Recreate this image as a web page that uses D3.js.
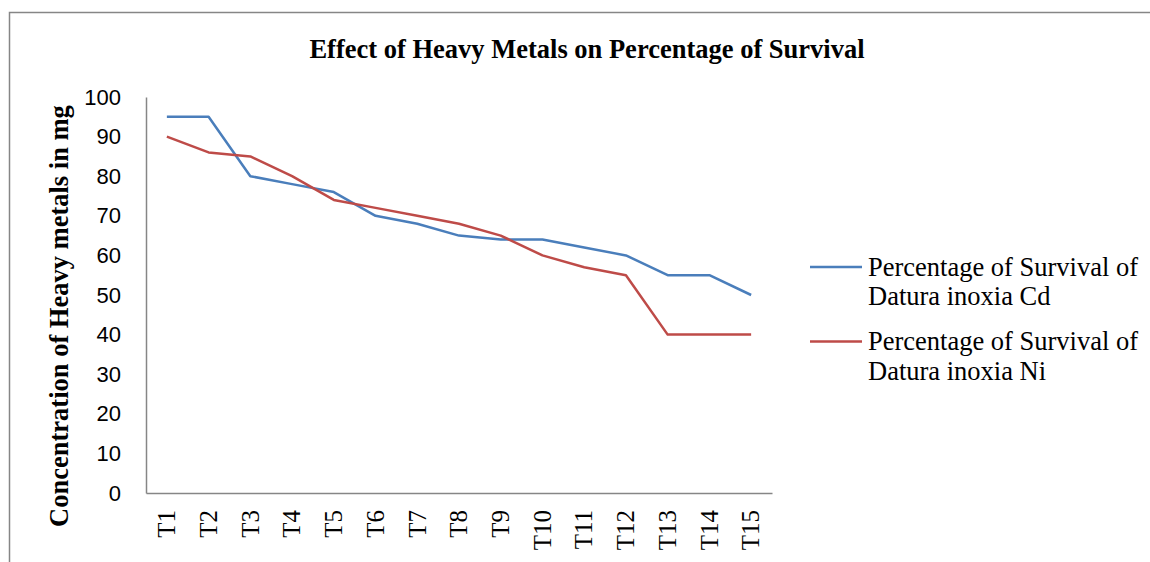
<!DOCTYPE html>
<html>
<head>
<meta charset="utf-8">
<script src="https://cdn.jsdelivr.net/npm/d3@7"></script>
<style>
  body { margin: 0; background: #fff; }
  svg { display: block; }
</style>
</head>
<body>
<svg width="1150" height="562"></svg>
<script>
const categories = ['T1', 'T2', 'T3', 'T4', 'T5', 'T6', 'T7', 'T8', 'T9', 'T10', 'T11', 'T12', 'T13', 'T14', 'T15'];
const cdValues = [95, 95, 80, 78, 76, 70, 68, 65, 64, 64, 62, 60, 55, 55, 50];
const niValues = [90, 86, 85, 80, 74, 72, 70, 68, 65, 60, 57, 55, 40, 40, 40];
const yTicks = [0, 10, 20, 30, 40, 50, 60, 70, 80, 90, 100];
const seriesNames = ['Percentage of Survival of Datura inoxia Cd', 'Percentage of Survival of Datura inoxia Ni'];
const colors = ['#4A7EBB', '#BE4B48'];

const svg = d3.select('svg');
const serif = '"Liberation Serif", "Times New Roman", serif';
const sans = '"Liberation Sans", Arial, sans-serif';

// outer chart border (cropped at right and bottom)
svg.append('rect')
    .attr('x', 9.5).attr('y', 12.5)
    .attr('width', 1200).attr('height', 600)
    .attr('fill', 'none').attr('stroke', '#868686').attr('stroke-width', 1.5);

const plot = { left: 146, right: 772, top: 97, bottom: 493 };

const x = d3.scaleBand()
    .domain(categories)
    .range([plot.left, plot.right]);
const y = d3.scaleLinear()
    .domain([0, 100])
    .range([plot.bottom, plot.top]);

// title
svg.append('text')
    .attr('x', 587).attr('y', 58)
    .attr('text-anchor', 'middle')
    .style('font-family', serif).style('font-weight', 'bold').style('font-size', '26.5px')
    .text('Effect of Heavy Metals on Percentage of Survival');

// y axis
const yAxis = svg.append('g')
    .attr('transform', `translate(${plot.left},0)`)
    .call(d3.axisLeft(y).tickValues(yTicks).tickSize(0).tickPadding(25));
yAxis.select('.domain').attr('stroke', '#868686').attr('stroke-width', 1.5);
yAxis.selectAll('text')
    .style('font-family', sans).style('font-size', '22px').attr('fill', '#000');

// x axis
const xAxis = svg.append('g')
    .attr('transform', `translate(0,${plot.bottom})`)
    .call(d3.axisBottom(x).tickSize(0));
xAxis.select('.domain').attr('stroke', '#868686').attr('stroke-width', 1.5);
xAxis.selectAll('text')
    .attr('transform', 'rotate(-90)')
    .attr('x', -17).attr('y', 0).attr('dy', '0.33em')
    .attr('text-anchor', 'end')
    .style('font-family', serif).style('font-size', '25px').attr('fill', '#000');

// y axis title
svg.append('text')
    .attr('transform', `translate(68,316) rotate(-90)`)
    .attr('text-anchor', 'middle')
    .style('font-family', serif).style('font-weight', 'bold').style('font-size', '26.5px')
    .text('Concentration of Heavy metals in mg');

// lines
const line = d3.line()
    .x((d, i) => x(categories[i]) + x.bandwidth() / 2)
    .y(d => y(d));

[cdValues, niValues].forEach((vals, i) => {
    svg.append('path')
        .datum(vals)
        .attr('d', line)
        .attr('fill', 'none')
        .attr('stroke', colors[i])
        .attr('stroke-width', 2.5)
        .attr('stroke-linejoin', 'round');
});

// legend
const legend = svg.append('g');
seriesNames.forEach((name, i) => {
    const ly = 267 + i * 74.5;
    legend.append('line')
        .attr('x1', 810).attr('x2', 862)
        .attr('y1', ly).attr('y2', ly)
        .attr('stroke', colors[i]).attr('stroke-width', 2.5);
    const t = legend.append('text')
        .attr('x', 868).attr('y', ly + 8.5)
        .style('font-family', serif).style('font-size', '26.5px');
    t.append('tspan').attr('x', 868).text('Percentage of Survival of');
    t.append('tspan').attr('x', 868).attr('dy', 29.5).text(name.replace('Percentage of Survival of ', ''));
});
</script>
</body>
</html>
